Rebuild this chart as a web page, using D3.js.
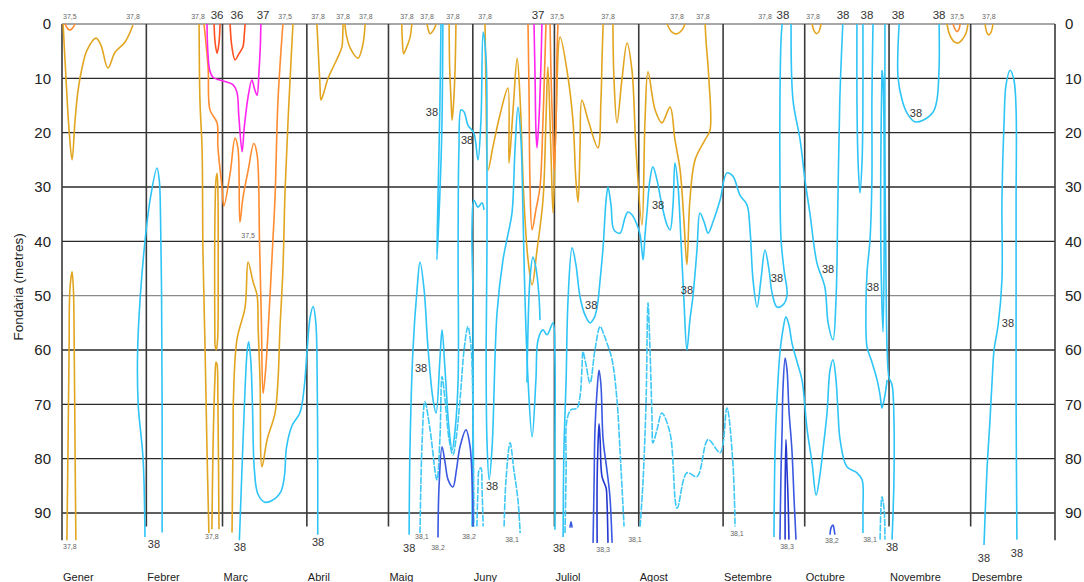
<!DOCTYPE html>
<html><head><meta charset="utf-8">
<script src="https://cdn.jsdelivr.net/npm/d3@7"></script>
<style>
html,body{margin:0;padding:0;background:#fff;}
svg{display:block;font-family:"Liberation Sans",Arial,sans-serif;}
</style></head>
<body>
<svg id="chart" width="1084" height="582"></svg>
<script>
// ---------- data ----------
const months = ["Gener","Febrer","Març","Abril","Maig","Juny","Juliol","Agost","Setembre","Octubre","Novembre","Desembre"];
const monthStart = [0,31,59,90,120,151,181,212,243,273,304,334];
const depthTicks = [0,10,20,30,40,50,60,70,80,90];

// isolines: [day of year, depth (m)]
const iso36 = [
  [[55.9,0],[56.3,3.5],[57,5.4],[57.7,3.5],[58.1,0]],
  [[61.8,0],[62.4,4],[63.6,6.6],[65,5.5],[66.5,4.2],[67,2],[67.3,0]]
];
const iso37 = [
  [[53.3,0],[53.6,5],[54.3,8.5],[55.5,9.8],[58,10.3],[62.9,11.2],[64.3,12.5],[65,17],[66.2,23.5],[67,19],[68.4,13.4],[69.8,10.3],[70.8,12],[71.7,13.1],[72.4,8.8],[72.9,4],[73.1,0]],
  [[173.5,0],[173.9,10.3],[174.2,19.5],[174.6,22.8],[175.3,17.7],[176.1,6.6],[176.4,0]]
];
const iso375 = [
  [[1.1,0],[2,0.8],[2.9,1.1],[3.8,0.8],[4.8,0]],
  [[52.2,0],[53.7,8],[54.4,15.8],[57,18.2],[57.3,22.6],[58.8,30],[59.5,33.5],[61.8,27.5],[63.6,21],[64.7,23],[65.4,36.5],[66.5,32],[68.4,27],[70.5,22],[71.7,24],[72.6,40],[73.3,55],[73.9,68],[74.8,64],[75.7,57],[77.5,40],[78.3,32],[79.4,14],[81.2,0]],
  [[171.3,0],[171.7,14],[172,28.7],[172.8,37.9],[174.2,34.2],[175.7,30],[176.8,17.7],[177.5,6.6],[177.9,0]],
  [[179.4,0],[179.8,10.3],[180.5,21.3],[180.9,26.9],[181.6,17.7],[181.9,6.6],[182.3,0]],
  [[327.5,0],[328.3,1],[329,1.4],[329.7,1],[330.1,0]]
];
const iso378 = [
  [[0.4,0],[1.5,10.3],[2.6,19.5],[3.7,25],[4.8,17.7],[5.9,12.2],[7.4,8],[9.2,4.8],[12.5,2.6],[14.3,3.9],[16.9,8.1],[19.5,5.2],[23.2,3.3],[26.1,0.2]],
  [[1.8,95],[2.2,78.4],[2.6,60],[2.9,48.9],[3.7,45.6],[4.2,48.9],[4.5,60],[4.8,78.4],[5.1,95]],
  [[50.4,0],[50.7,14],[51.5,23.2],[51.8,41.6],[52.6,60],[53.3,78.4],[54,93.7]],
  [[56.2,59],[56.1,45],[56.3,33],[56.6,28.7],[57,27.5],[57.3,30.5],[57.4,45],[57.2,58],[56.7,60],[56.2,59]],
  [[55.1,93],[55.5,78.4],[56.2,65.5],[56.6,62.2],[57,62.7],[57.3,69.2],[57.7,93]],
  [[62.5,93.6],[62.9,74.7],[63,69.2],[64.3,58.1],[67.3,52.1],[68.4,43.8],[70.2,47.4],[71.7,49.9],[72.1,56],[72.8,65.5],[73.5,81.5],[75.4,76.5],[78.3,71.6],[79.4,65.5],[80.1,56.3],[81.2,45.3],[82,30.5],[83.1,17.7],[84.2,6.6],[84.9,0]],
  [[93.7,0],[94.2,5],[94.8,11],[95.2,14],[96,13],[97.8,10],[99.6,8],[101.5,6],[102.9,4.2],[103.2,2],[103.3,0]],
  [[104,0],[104.5,2],[106,4.5],[108.8,6.3],[110.5,4],[111.2,1.5],[111.4,0]],
  [[124.9,0],[125.1,3],[125.6,5.5],[126.5,4.5],[127.9,2.5],[128.6,0]],
  [[134.2,0],[134.7,1.2],[135.3,1.8],[136.7,1],[137.5,0]],
  [[142.3,0],[142.5,8],[143,14],[143.4,17.7],[144,14],[144.5,8],[144.8,0]],
  [[155.5,0],[155.9,14],[156.6,26.9],[158.4,22.6],[161,16.7],[163.9,11.8],[164.3,25.6],[165.8,15.8],[167.3,6.3],[168.4,14],[169.8,32.4],[171.3,43.4],[172.8,48],[174.6,41.6],[176.8,32.4],[177.9,17.7],[178.6,7.9],[179.7,23.2],[180.5,34.8],[181.6,17.7],[183.1,2.4],[185.6,8.5],[187.8,17.7],[188.9,28.7],[189.7,32.8],[190.4,23.2],[191.1,14],[193.4,17.7],[197,22.8],[198.1,14],[198.5,6.6],[198.9,0]],
  [[202.5,0],[202.9,10.3],[204,18.2],[205.8,10.3],[207.7,3.5],[209.5,8.5],[211,23.2],[213.2,37],[214.3,17.7],[215.4,8.8],[218,15.8],[220.5,18.2],[223.5,15.3],[225.3,21.3],[227.2,26.9],[228.6,36.1],[229.7,44.3],[230.8,32.4],[232.7,25],[236.4,21.3],[238.2,19.5],[237.8,10.3],[236.7,2.9],[236.4,0]],
  [[222.4,0],[224.2,1.5],[226.1,1.8],[227.9,1.1],[229,0]],
  [[275.7,0],[276.5,1.3],[277.5,1.8],[278.4,1.2],[279,0]],
  [[325.3,0],[326.3,2],[328,3.3],[329.4,3.5],[331,2.8],[332.4,1.5],[333,0]],
  [[339.3,0],[339.9,1.5],[340.6,2],[341.5,1.5],[342.2,0]]
];
const iso38 = [
  [[30.5,94.4],[29.8,80],[28,70],[27.8,60],[28.8,50],[30.5,40],[32.5,32],[34.9,26.5],[35.8,29],[36.2,35],[36.6,50],[36.8,70],[36.8,93.6]],
  [[65.2,95],[66.3,80],[67.3,67],[68.1,60],[68.6,58.5],[69.4,62],[70,70],[70.7,82],[72,86.5],[74.5,88],[77.2,87.7],[80.5,86],[81.8,83],[82.5,78],[84.5,74],[87.5,71.5],[89,67],[90.1,60],[91.2,54],[92.3,52],[93.3,55],[93.8,65],[94,80],[94,94]],
  [[139.3,0],[138.9,15],[138.2,32],[137.8,43.4],[138.6,35],[139.6,20],[140,0]],
  [[127.6,94],[127.9,78.4],[129,60],[130.5,48.9],[131.6,43.8],[133.1,48.9],[134.5,59.4],[136.4,69.2],[137.5,71.6],[138.9,61.8],[139.7,56.3],[140.8,63.7],[142.3,74.7],[143.4,78.4],[144.5,74.7],[145.6,65.5],[145.6,41.6],[145.9,23.2],[146.7,15.8],[147.8,16.2],[149.2,18.6],[151.4,20.1],[152.9,25],[154,17.7],[154.8,1.5],[155.9,6.6],[156.2,23.2],[156.2,41.6],[155.9,60],[156.2,76.5],[157,83.9],[158.1,77.8],[159.9,53.2],[162.1,43.4],[163.9,38.8],[165.4,34.8],[166.5,23.2],[167.6,15.3],[168.7,21.3],[169.5,36.1],[170.2,50.8],[171.3,65.5],[172.8,76],[174.2,65.5],[175,58.1],[176.8,56.3],[178.3,57.2],[180.5,55],[181.2,61.8],[181.2,78.4],[181.2,93.1]],
  [[150.7,92.5],[151.1,69.2],[151.1,50.8],[150.7,37.9],[151.4,32.4],[152.9,33.7],[154.4,32.9],[155.1,34.2]],
  [[170.9,66],[171.3,56],[172,47],[173.1,42.9],[174.2,44.9],[175.3,49.9],[175.7,54.5]],
  [[184.2,94.4],[184.5,78.4],[185.3,65.5],[186,50.8],[187.5,41.2],[188.9,44.3],[190.4,50.2],[192.2,53.5],[194.1,55],[195.6,54.1],[196.7,52.1],[197.8,47.1],[198.9,41],[200,32.4],[200.7,30],[201.8,33.3],[202.9,37.9],[205.1,38.5],[206.9,35.7],[208,34.6],[209.5,35.1],[211.4,37],[212.5,38.8],[213.6,43.4],[214.3,38.8],[215,34.8],[216.1,28.7],[217.2,26.3],[218.7,28.7],[220.5,33.3],[222.4,37],[223.5,37.9],[224.6,33.3],[225.3,25.6],[226.4,29.6],[227.5,39.7],[228.6,50.8],[229.7,60],[230.8,54.5],[231.9,50.2],[233.4,41.6],[234.5,34.8],[236,36.4],[237.5,38.5],[239.3,36.4],[241.9,32.4],[244.4,27.4],[246.6,28],[249.2,31.5],[251.8,33.3],[252.9,37.9],[254,47.1],[255.5,52.1],[256.9,47.1],[258.4,41.6],[259.9,45.3],[261,49.5],[262.8,52.1],[265,51.7],[266.5,49.9],[265.4,45.3],[264.3,39.7],[263.9,28.7],[263.9,14],[264.3,2.9],[264.7,0]],
  [[268,0],[268.7,14],[271.3,21.3],[273.1,28.7],[274.9,34.8],[277.5,44],[280.4,48.4],[281.6,55],[283.4,58.1],[284.5,50.8],[285.2,32.4],[285.9,14],[287,0]],
  [[292.2,0],[292.2,14],[292.6,25],[293.3,31.1],[294.1,25],[294.4,14],[294.4,0]],
  [[298.1,0],[297.7,14],[297.7,28.7],[297,39.7],[295.9,45.8],[295.5,53.2],[295.9,59.4],[297.7,62.2],[299.6,65.5],[300.7,68.3],[301.4,70.7],[302.5,68.3],[303.3,65.5]],
  [[302.5,0],[302.5,23.2],[302.9,47.1],[303.3,60],[304,65.1],[305.1,66.4],[305.8,72.9],[305.8,83.9],[305.1,94.9]],
  [[301.4,8.5],[301,23.2],[301,41.6],[301.8,56.7],[302.2,41.6],[302.2,23.2],[301.8,10.3],[301.4,8.5]],
  [[307.7,0],[307.3,9.8],[308.8,14],[310.6,16.4],[313.5,18],[316.5,17.7],[320.2,16.2],[321.6,14],[322.4,7.9],[322.4,0]],
  [[338.9,95.9],[340,82.1],[341.1,72.9],[341.9,65.5],[342.6,60],[344.1,55.4],[345.5,47.1],[345.5,32.4],[346.3,17.7],[347,11.2],[348.5,8.5],[349.9,10.3],[350.7,15.8],[350.7,32.4],[350.7,50.8],[350.7,69.2],[351,94.9]],
  [[261.7,94.4],[262.1,78.4],[262.8,69.2],[263.9,60.5],[265,56.3],[266.1,53.9],[267.2,55.4],[268.3,58.7],[270.2,62.2],[272,65.5],[273.9,74.7],[275.7,80.8],[277.2,86.7],[278.6,83],[279.7,78.4],[281.2,71.6],[282.3,63.7],[283.4,61.8],[284.5,65.5],[285.2,71],[286,76.5],[288.5,81.5],[292.2,82.6],[294.1,83.9],[294.4,89.4],[294.4,93.7]]
];
const iso381 = [
  [[131.6,93.7],[132.3,77.8],[133.4,69.5],[135.3,74.7],[137.8,83.9],[138.9,76.5],[139.7,64.9],[140.8,69.2],[142.3,76.5],[143.7,79.3],[144.8,76.5],[146.3,69.2],[147.8,60],[149.2,55.7],[150.3,59.1],[151.1,72.9],[151.4,92.5]],
  [[152.5,92.5],[152.9,85.7],[153.3,82.1],[154,81.7],[154.4,85.7],[154.8,92.5]],
  [[162.5,92.5],[163.2,83.9],[164.7,77.1],[166.1,82.1],[167.6,87.6],[168.4,93.7]],
  [[184.9,93.7],[185.3,82.1],[185.6,72.9],[187.1,71],[189.3,70.7],[190.4,68.6],[191.1,63.7],[191.5,60.3],[192.6,62.7],[194.1,66.1],[195.9,60],[197.8,55.7],[199.2,57.2],[200.3,58.7],[202.2,61.8],[204,69.2],[205.1,78.4],[206.6,92.5]],
  [[212.5,92.5],[213.6,83.9],[214.7,69.2],[215.4,51.3],[216.1,59.4],[216.9,72.9],[217.2,77.1],[218.7,74.7],[220.5,71.6],[223.5,75.3],[226.1,89.1],[229.7,82.6],[233.4,83.3],[237.5,76.5],[241.9,78.9],[244.4,70.7],[246.6,80.8],[247.4,92.5]],
  [[300.7,94.9],[301,89.4],[301.4,87],[302.2,89.4],[302.5,94.9]]
];
const iso382 = [
  [[138.2,94.5],[138.6,85],[139.7,77.8],[140.8,80.7],[142,84],[143.7,85.2],[145,82],[146.3,77.8],[148.5,74.7],[150,77.8],[150.8,85],[151.1,92.5]],
  [[186.7,92.7],[187.1,91.6],[187.5,92.7]],
  [[195.2,95.5],[195.6,83.9],[195.9,74.7],[196.7,67.3],[197.4,63.7],[198.1,66.4],[198.9,76.5],[200.3,82.1],[201.4,87],[202.2,95.5]],
  [[263.9,94.9],[264.3,82.1],[264.7,74.7],[265,67.3],[265.8,61.5],[266.5,63.7],[267.2,71],[268.3,78.4],[269.1,87.6],[269.8,94.9]],
  [[282.3,94],[282.7,92.7],[283.4,92.2],[283.7,92.7],[284.1,94]]
];
const iso383 = [
  [[196.7,95.5],[196.7,83.9],[197,77.8],[197.4,73.6],[197.8,76.5],[198.5,83.3],[200,85.4],[200.3,87.6],[200.7,95.5]],
  [[265.8,94.9],[265.8,85.7],[266.1,76.5],[266.5,82.1],[266.9,87.6],[267.2,94.9]]
];

// contour labels
const topSmallLabels = [[2.9,"37,5"],[26.1,"37,8"],[50,"37,8"],[82,"37,5"],[94.1,"37,8"],[103.3,"37,8"],[111.7,"37,8"],[126.8,"37,8"],[134.2,"37,8"],[143.7,"37,8"],[155.5,"37,8"],[182,"37,5"],[200.7,"37,8"],[226.1,"37,8"],[235.6,"37,8"],[258.4,"37,8"],[276.1,"37,8"],[329,"37,5"],[340.7,"37,8"]];
const topBigLabels = [[57,"36"],[64.3,"36"],[73.9,"37"],[175,"37"],[265,"38"],[287.1,"38"],[295.9,"38"],[307.3,"38"],[322.4,"38"]];
const smallLabels = [[2.9,96.2,"37,8"],[55.1,94.4,"37,8"],[68.4,39,"37,5"],[132.3,94.4,"38,1"],[138.2,96.4,"38,2"],[149.6,94.4,"38,2"],[165.4,94.8,"38,1"],[198.9,96.8,"38,3"],[210.6,94.8,"38,1"],[248.1,93.7,"38,1"],[266.5,96.2,"38,3"],[283,95.1,"38,2"],[297,94.9,"38,1"]];
const bigLabels = [[33.8,95.7,"38"],[65.4,96.2,"38"],[94.1,95.3,"38"],[127.6,96.4,"38"],[158.1,85,"38"],[182.7,96.4,"38"],[305.1,96.2,"38"],[338.9,98.3,"38"],[351,97.3,"38"],[136,16.2,"38"],[148.9,21.3,"38"],[132,63.3,"38"],[194.5,51.7,"38"],[219.1,33.3,"38"],[229.7,48.9,"38"],[262.8,46.7,"38"],[281.6,45.1,"38"],[298.1,48.4,"38"],[313.9,16.4,"38"],[347.7,55,"38"]];

// ---------- drawing ----------
const svg = d3.select("#chart");
const x = d3.scaleLinear().domain([0,365]).range([62,1055]);
const y = d3.scaleLinear().domain([0,90]).range([24,513]);

// horizontal grid
svg.append("g").selectAll("line").data(depthTicks).join("line")
  .attr("x1", x(0)).attr("x2", x(365))
  .attr("y1", d => y(d)).attr("y2", d => y(d))
  .attr("stroke", d => (d === 50 || d === 0) ? "#8a8a8a" : "#2a2a2a")
  .attr("stroke-width", 1.3);

// month lines
svg.append("g").selectAll("line").data(monthStart.slice(1)).join("line")
  .attr("x1", d => x(d)).attr("x2", d => x(d))
  .attr("y1", y(0)).attr("y2", y(92.5))
  .attr("stroke", "#3a3a3a").attr("stroke-width", 1.6);
// frame sides
svg.append("g").selectAll("line").data([0,365]).join("line")
  .attr("x1", d => x(d)).attr("x2", d => x(d))
  .attr("y1", y(0)).attr("y2", y(95))
  .attr("stroke", "#3a3a3a").attr("stroke-width", 1.6);

// axis labels
svg.append("g").selectAll("text").data(depthTicks).join("text")
  .attr("x", 51).attr("y", d => y(d)).attr("dy", "0.36em")
  .attr("text-anchor", "end").attr("font-size", 15).attr("fill", "#222")
  .text(d => d);
svg.append("g").selectAll("text").data(depthTicks).join("text")
  .attr("x", 1065).attr("y", d => y(d)).attr("dy", "0.36em")
  .attr("text-anchor", "start").attr("font-size", 15).attr("fill", "#222")
  .text(d => d);
svg.append("text").attr("transform", `translate(23,${y(48.4)}) rotate(-90)`)
  .attr("text-anchor", "middle").attr("font-size", 13.5).attr("fill", "#222")
  .text("Fondària (metres)");
svg.append("g").selectAll("text").data(months).join("text")
  .attr("x", (d,i) => x(monthStart[i]) + 1).attr("y", 581)
  .attr("font-size", 11).attr("fill", "#222")
  .text(d => d);

// isolines
const line = d3.line().x(d => x(d[0])).y(d => y(d[1])).curve(d3.curveCatmullRom.alpha(0.5));
const groups = [
  {data: iso378, color: "#e2a520", w: 1.6},
  {data: iso375, color: "#ff8c30", w: 1.6},
  {data: iso37,  color: "#ff24ee", w: 1.6},
  {data: iso36,  color: "#ff5020", w: 1.6},
  {data: iso38,  color: "#2ec4f6", w: 1.6},
  {data: iso381, color: "#3ec8f6", w: 1.6, dash: "7,1.2"},
  {data: iso382, color: "#3a58e0", w: 1.6},
  {data: iso383, color: "#2438d0", w: 1.6}
];
groups.forEach(g => {
  svg.append("g").selectAll("path").data(g.data).join("path")
    .attr("d", line).attr("fill", "none")
    .attr("stroke", g.color).attr("stroke-width", g.w)
    .attr("stroke-linejoin", "round")
    .attr("stroke-dasharray", g.dash || null);
});

// contour labels
svg.append("g").selectAll("text").data(topSmallLabels).join("text")
  .attr("x", d => x(d[0])).attr("y", y(0) - 7).attr("dy", "0.35em")
  .attr("text-anchor", "middle").attr("font-size", 7).attr("fill", "#666")
  .text(d => d[1]);
svg.append("g").selectAll("text").data(topBigLabels).join("text")
  .attr("x", d => x(d[0])).attr("y", y(0) - 9).attr("dy", "0.35em")
  .attr("text-anchor", "middle").attr("font-size", 11.5).attr("fill", "#333")
  .text(d => d[1]);
svg.append("g").selectAll("text").data(smallLabels).join("text")
  .attr("x", d => x(d[0])).attr("y", d => y(d[1])).attr("dy", "0.35em")
  .attr("text-anchor", "middle").attr("font-size", 7).attr("fill", "#666")
  .text(d => d[2]);
svg.append("g").selectAll("text").data(bigLabels).join("text")
  .attr("x", d => x(d[0])).attr("y", d => y(d[1])).attr("dy", "0.35em")
  .attr("text-anchor", "middle").attr("font-size", 11).attr("fill", "#333")
  .text(d => d[2]);
</script>
</body></html>
